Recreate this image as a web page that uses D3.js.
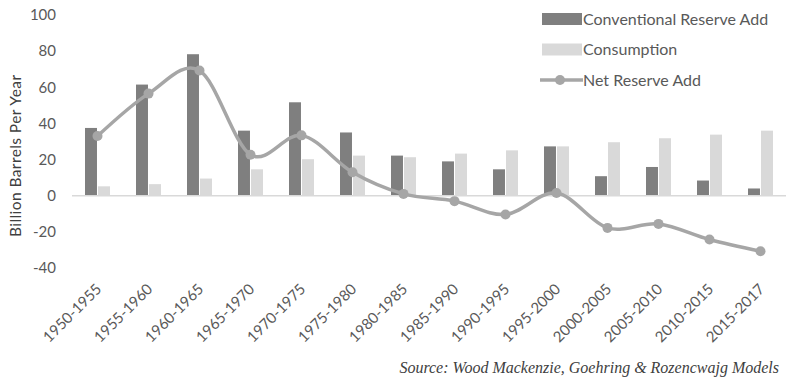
<!DOCTYPE html>
<html>
<head>
<meta charset="utf-8">
<script src="https://cdn.jsdelivr.net/npm/d3@7"></script>
<style>
  body { margin: 0; background: #fff; }
  .tick-label { font-family: Lato, "Open Sans", sans-serif; fill: #595959; }
</style>
</head>
<body>
<div id="viz"></div>
<script>

const periods = ["1950-1955", "1955-1960", "1960-1965", "1965-1970", "1970-1975", "1975-1980", "1980-1985",
  "1985-1990", "1990-1995", "1995-2000", "2000-2005", "2005-2010", "2010-2015", "2015-2017"];
const reserveAdd = [37.5, 61.5, 78.3, 36, 51.7, 35, 22.2, 19, 14.6, 27.3, 10.8, 15.9, 8.4, 4];
const consumption = [5.2, 6.4, 9.5, 14.6, 20.2, 22.2, 21.3, 23.3, 25.1, 27.3, 29.6, 31.8, 33.8, 36];
const netAdd = [33, 56.5, 69.3, 22.7, 33.4, 13, 1, -3, -10.4, 1.5, -17.8, -15.6, -24.2, -30.7];
const yTicks = [-40, -20, 0, 20, 40, 60, 80, 100];

const W = 791, H = 387;
const margin = {top: 15, right: 5, bottom: 119, left: 72};
const width = W - margin.left - margin.right,
    height = H - margin.top - margin.bottom;

const svg = d3.select("#viz")
  .append("svg")
  .attr("width", W)
  .attr("height", H);

const g = svg.append("g")
  .attr("transform", `translate(${margin.left}, ${margin.top})`);

const x = d3.scaleBand()
  .domain(periods)
  .range([0, width]);

const y = d3.scaleLinear()
  .domain([-40, 100])
  .range([height, 0]);

// inner band for the two bars
const xs = d3.scaleBand()
  .domain(["add", "cons"])
  .range([13, x.bandwidth() - 13])
  .paddingInner(0.08);

// y tick labels (no axis line)
g.append("g")
  .selectAll("text")
  .data(yTicks)
  .join("text")
    .attr("class", "tick-label")
    .attr("x", -16)
    .attr("y", d => y(d))
    .attr("dy", "0.35em")
    .attr("text-anchor", "end")
    .attr("font-size", 15)
    .text(d => d);

// y title
svg.append("text")
  .attr("transform", `translate(21, ${margin.top + y(22)}) rotate(-90)`)
  .attr("text-anchor", "middle")
  .attr("font-family", "Lato, 'Open Sans', sans-serif")
  .attr("font-size", 15.5)
  .attr("fill", "#404040")
  .attr("textLength", 162)
  .attr("lengthAdjust", "spacing")
  .text("Billion Barrels Per Year");

// bars
const bars = g.append("g");
bars.selectAll(".add")
  .data(periods)
  .join("rect")
    .attr("class", "add")
    .attr("x", (d) => x(d) + xs("add"))
    .attr("y", (d, i) => y(reserveAdd[i]))
    .attr("width", xs.bandwidth())
    .attr("height", (d, i) => y(0) - y(reserveAdd[i]))
    .attr("fill", "#7f7f7f");

bars.selectAll(".cons")
  .data(periods)
  .join("rect")
    .attr("class", "cons")
    .attr("x", (d) => x(d) + xs("cons"))
    .attr("y", (d, i) => y(consumption[i]))
    .attr("width", xs.bandwidth())
    .attr("height", (d, i) => y(0) - y(consumption[i]))
    .attr("fill", "#d9d9d9");

// zero line
g.append("line")
  .attr("x1", 0)
  .attr("x2", width)
  .attr("y1", y(0))
  .attr("y2", y(0))
  .attr("stroke", "#d9d9d9")
  .attr("stroke-width", 1.5);

// net reserve line
const cx = d => x(d) + x.bandwidth() / 2;
const line = d3.line()
  .x((d, i) => cx(periods[i]))
  .y(d => y(d))
  .curve(d3.curveCatmullRom.alpha(0));

g.append("path")
  .datum(netAdd)
  .attr("d", line)
  .attr("fill", "none")
  .attr("stroke", "#a6a6a6")
  .attr("stroke-width", 3.5);

g.append("g")
  .selectAll("circle")
  .data(netAdd)
  .join("circle")
    .attr("cx", (d, i) => cx(periods[i]))
    .attr("cy", d => y(d))
    .attr("r", 5)
    .attr("fill", "#a6a6a6");

// x labels
g.append("g")
  .selectAll("text")
  .data(periods)
  .join("text")
    .attr("class", "tick-label")
    .attr("font-size", 15)
    .attr("text-anchor", "end")
    .attr("transform", d => `translate(${cx(d) + 5}, ${height + 22}) rotate(-45)`)
    .text(d => d);

// legend
const legend = svg.append("g").attr("transform", "translate(542, 0)");
const legendItems = [
  {name: "Conventional Reserve Add", type: "bar", color: "#7f7f7f"},
  {name: "Consumption", type: "bar", color: "#d9d9d9"},
  {name: "Net Reserve Add", type: "line", color: "#a6a6a6"}
];
legendItems.forEach((it, i) => {
  const ly = 19 + i * 30.5;
  if (it.type === "bar") {
    legend.append("rect")
      .attr("x", 0).attr("y", ly - 6)
      .attr("width", 40).attr("height", 12)
      .attr("fill", it.color);
  } else {
    legend.append("line")
      .attr("x1", -2).attr("x2", 41)
      .attr("y1", ly).attr("y2", ly)
      .attr("stroke", it.color).attr("stroke-width", 3.5);
    legend.append("circle")
      .attr("cx", 18).attr("cy", ly).attr("r", 5).attr("fill", it.color);
  }
  legend.append("text")
    .attr("x", 41)
    .attr("y", ly)
    .attr("dy", "0.36em")
    .attr("font-family", "Lato, 'Open Sans', sans-serif")
    .attr("font-size", 16)
    .attr("fill", "#595959")
    .text(it.name);
});

// source note
svg.append("text")
  .attr("x", 779)
  .attr("y", 373)
  .attr("text-anchor", "end")
  .attr("font-family", "'Liberation Serif', 'DejaVu Serif', serif")
  .attr("font-style", "italic")
  .attr("font-size", 16)
  .attr("fill", "#404040")
  .text("Source: Wood Mackenzie, Goehring & Rozencwajg Models");

</script>
</body>
</html>
